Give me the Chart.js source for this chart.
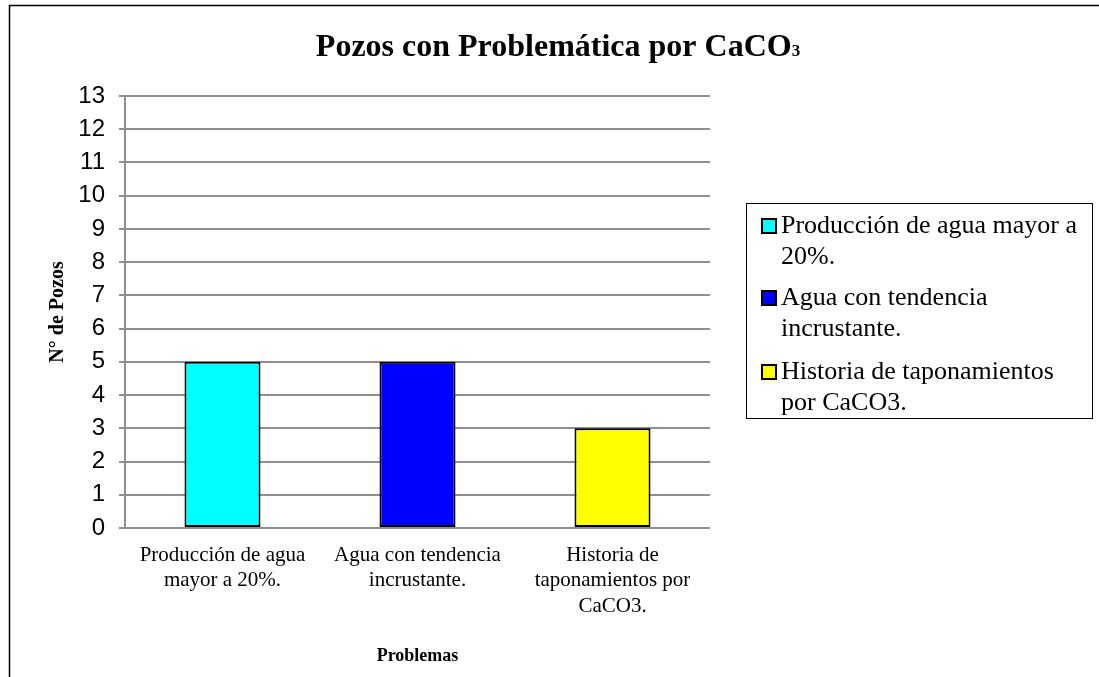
<!DOCTYPE html>
<html>
<head>
<meta charset="utf-8">
<script src="https://cdn.jsdelivr.net/npm/chart.js@4.4.1/dist/chart.umd.min.js"></script>
<style>
  html, body { margin: 0; padding: 0; background: #fff; }
  #wrap { width: 1099px; height: 677px; position: relative; }
</style>
</head>
<body>
<div id="wrap"><canvas id="chart"></canvas></div>
<script>
// data
const categories = [
  ["Producción de agua", "mayor a 20%."],
  ["Agua con tendencia", "incrustante."],
  ["Historia de", "taponamientos por", "CaCO3."],
];
const legendLabels = [
  ["Producción de agua mayor a", "20%."],
  ["Agua con tendencia", "incrustante."],
  ["Historia de taponamientos", "por CaCO3."],
];
const pozos = [5, 5, 3];
const barColors = ["#00FFFF", "#0000FF", "#FFFF00"];
const yMax = 13;

const SERIF = "'Liberation Serif', 'Times New Roman', serif";
const SANS = "'Liberation Sans', Arial, sans-serif";

// outer frame + title (title has a subscript 3, so drawn by hand)
const framePlugin = {
  id: "frame",
  afterDraw(chart) {
    const ctx = chart.ctx;
    ctx.save();
    ctx.strokeStyle = "#000";
    ctx.lineWidth = 1.5;
    ctx.beginPath();
    ctx.moveTo(9.5, 677);
    ctx.lineTo(9.5, 5.5);
    ctx.lineTo(1099, 5.5);
    ctx.stroke();

    const main = "Pozos con Problemática por CaCO";
    ctx.fillStyle = "#000";
    ctx.textBaseline = "alphabetic";
    ctx.font = "bold 32px " + SERIF;
    const w1 = ctx.measureText(main).width;
    ctx.font = "bold 17px " + SERIF;
    const w2 = ctx.measureText("3").width;
    const x0 = 558 - (w1 + w2) / 2;
    ctx.font = "bold 32px " + SERIF;
    ctx.fillText(main, x0, 56);
    ctx.font = "bold 17px " + SERIF;
    ctx.fillText("3", x0 + w1, 56);
    ctx.restore();
  },
};

// boxed legend on the right, with wrapped lines
const legendTops = [226, 298, 372];
const boxLegend = {
  id: "boxLegend",
  afterDraw(chart) {
    const ctx = chart.ctx;
    const colors = chart.data.datasets[0].backgroundColor;
    ctx.save();
    ctx.strokeStyle = "#000";
    ctx.lineWidth = 1;
    ctx.strokeRect(746.5, 203.5, 346, 215);
    ctx.font = "26px " + SERIF;
    ctx.textBaseline = "middle";
    legendLabels.forEach((lines, i) => {
      const y = legendTops[i];
      ctx.fillStyle = colors[i];
      ctx.fillRect(762, y - 7, 14, 14);
      ctx.lineWidth = 2;
      ctx.strokeStyle = "#000";
      ctx.strokeRect(762, y - 7, 14, 14);
      ctx.fillStyle = "#000";
      lines.forEach((t, j) => ctx.fillText(t, 781, y + j * 31));
    });
    ctx.restore();
  },
};

new Chart(document.getElementById("chart"), {
  type: "bar",
  data: {
    labels: categories,
    datasets: [
      {
        label: "N° de Pozos",
        data: pozos,
        backgroundColor: barColors,
        borderColor: "#000",
        borderWidth: 2,
        borderSkipped: false,
        categoryPercentage: 1,
        barPercentage: 0.39,
      },
    ],
  },
  options: {
    responsive: true,
    maintainAspectRatio: false,
    animation: false,
    layout: { padding: { left: 44, right: 389, top: 96, bottom: 0 } },
    plugins: { legend: { display: false }, title: { display: false }, tooltip: { enabled: false } },
    scales: {
      x: {
        grid: { display: false, drawTicks: false },
        border: { display: false },
        ticks: { color: "#000", font: { family: SERIF, size: 21, lineHeight: 1.2 }, padding: 15, maxRotation: 0, autoSkip: false },
        title: { display: true, text: "Problemas", color: "#000", font: { family: SERIF, size: 18, weight: "bold" }, padding: { top: 0, bottom: 10 } },
        afterFit: (s) => { s.height = 149; },
      },
      y: {
        min: 0,
        max: yMax,
        ticks: { stepSize: 1, color: "#000", font: { family: SANS, size: 24 }, padding: 14 },
        grid: { color: "#8f8f8f", lineWidth: 2, tickLength: 6 },
        border: { color: "#8f8f8f", width: 2 },
        title: { display: true, text: "N° de Pozos", color: "#000", font: { family: SERIF, size: 20, weight: "bold" }, padding: 2 },
        afterFit: (s) => { s.width = 81; },
      },
    },
  },
  plugins: [framePlugin, boxLegend],
});
</script>
</body>
</html>
